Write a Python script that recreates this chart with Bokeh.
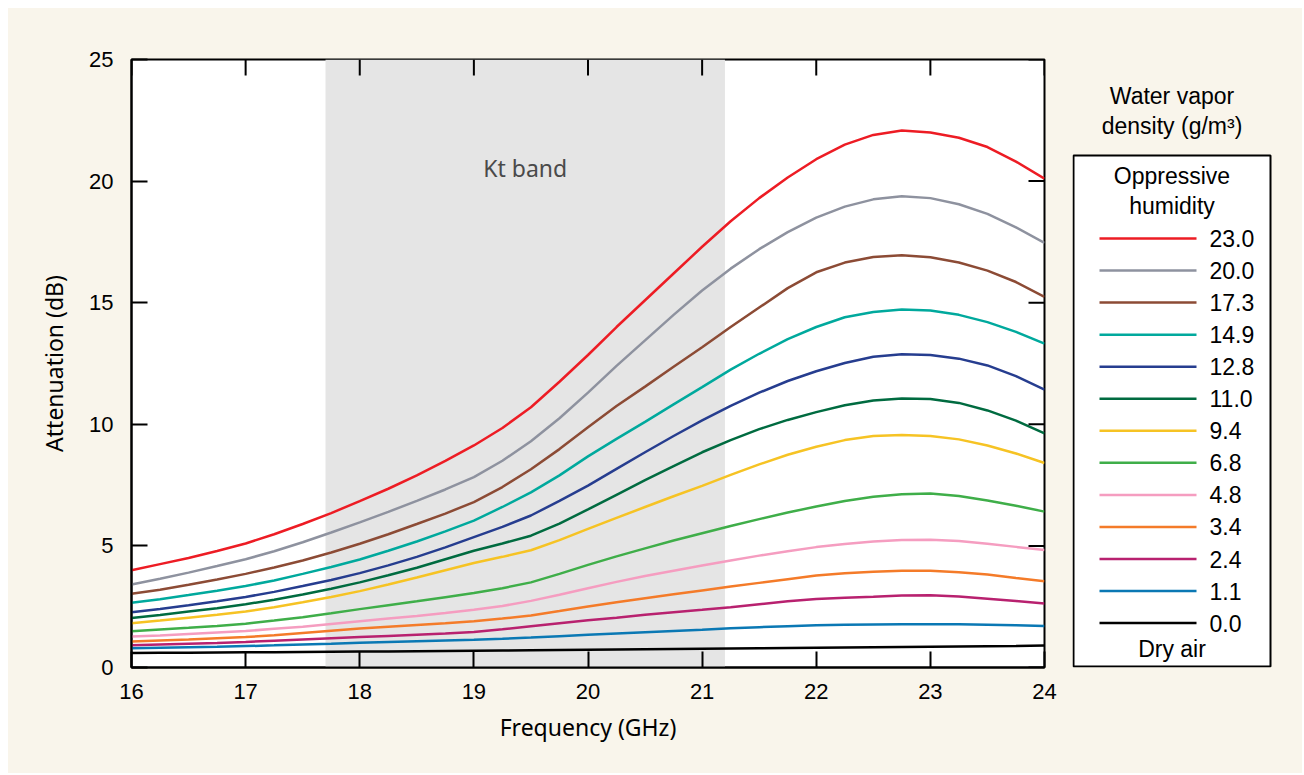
from bokeh.plotting import figure
from bokeh.models import Range1d, BoxAnnotation, Label, FixedTicker, Spacer
from bokeh.layouts import row, column
from bokeh.embed import file_html
from bokeh.resources import INLINE
from bokeh.core.properties import value

# ---------------- data ----------------
freq = [16.00, 16.25, 16.50, 16.75, 17.00, 17.25, 17.50, 17.75, 18.00, 18.25, 18.50,
        18.75, 19.00, 19.25, 19.50, 19.75, 20.00, 20.25, 20.50, 20.75, 21.00, 21.25,
        21.50, 21.75, 22.00, 22.25, 22.50, 22.75, 23.00, 23.25, 23.50, 23.75, 24.00]

densities = ["23.0", "20.0", "17.3", "14.9", "12.8", "11.0", "9.4", "6.8", "4.8", "3.4", "2.4", "1.1", "0.0"]
colors = ["#ed1c24", "#8e929f", "#8c4b35", "#00a99d", "#263d8f", "#006b40",
          "#f6c324", "#3fae49", "#f59dc0", "#f47b29", "#b8216f", "#0a78b4", "#000000"]

att_23_0 = [4.00, 4.25, 4.50, 4.79, 5.10, 5.48, 5.90, 6.35, 6.84, 7.35, 7.90, 8.50, 9.13, 9.85, 10.70, 11.75,
            12.85, 14.00, 15.10, 16.20, 17.30, 18.35, 19.30, 20.15, 20.90, 21.50, 21.90, 22.08, 22.00, 21.78,
            21.40, 20.80, 20.10]
att_20_0 = [3.41, 3.65, 3.90, 4.17, 4.45, 4.78, 5.15, 5.55, 5.97, 6.40, 6.85, 7.32, 7.83, 8.50, 9.30, 10.25,
            11.30, 12.40, 13.45, 14.50, 15.50, 16.40, 17.20, 17.90, 18.50, 18.95, 19.25, 19.38, 19.30, 19.05,
            18.65, 18.10, 17.46]
att_17_3 = [3.03, 3.20, 3.40, 3.62, 3.85, 4.11, 4.40, 4.73, 5.09, 5.48, 5.90, 6.33, 6.80, 7.42, 8.15, 8.98,
            9.88, 10.75, 11.55, 12.37, 13.17, 14.00, 14.80, 15.60, 16.25, 16.65, 16.88, 16.95, 16.87, 16.65,
            16.32, 15.85, 15.24]
att_14_9 = [2.66, 2.81, 2.98, 3.16, 3.35, 3.58, 3.85, 4.13, 4.44, 4.80, 5.18, 5.60, 6.04, 6.60, 7.20, 7.90,
            8.68, 9.40, 10.10, 10.82, 11.53, 12.25, 12.90, 13.50, 14.00, 14.40, 14.62, 14.72, 14.68, 14.50,
            14.20, 13.80, 13.32]
att_12_8 = [2.27, 2.41, 2.56, 2.72, 2.90, 3.11, 3.35, 3.60, 3.88, 4.20, 4.55, 4.94, 5.36, 5.78, 6.25, 6.85,
            7.48, 8.17, 8.85, 9.52, 10.16, 10.76, 11.30, 11.78, 12.18, 12.52, 12.78, 12.88, 12.85, 12.70,
            12.42, 11.98, 11.43]
att_11_0 = [2.04, 2.16, 2.30, 2.44, 2.60, 2.79, 3.00, 3.24, 3.50, 3.79, 4.10, 4.45, 4.80, 5.10, 5.42, 5.92,
            6.50, 7.10, 7.70, 8.28, 8.85, 9.35, 9.80, 10.18, 10.50, 10.78, 10.98, 11.06, 11.04, 10.88,
            10.57, 10.15, 9.63]
att_9_4 = [1.82, 1.93, 2.05, 2.17, 2.30, 2.48, 2.68, 2.90, 3.14, 3.41, 3.70, 4.00, 4.30, 4.55, 4.82, 5.24,
           5.70, 6.15, 6.60, 7.04, 7.47, 7.92, 8.35, 8.75, 9.08, 9.35, 9.52, 9.56, 9.52, 9.38,
           9.13, 8.80, 8.41]
att_6_8 = [1.49, 1.56, 1.63, 1.71, 1.80, 1.93, 2.07, 2.23, 2.40, 2.56, 2.72, 2.89, 3.06, 3.26, 3.50, 3.85,
           4.22, 4.57, 4.90, 5.22, 5.52, 5.82, 6.10, 6.37, 6.62, 6.85, 7.02, 7.12, 7.15, 7.05,
           6.87, 6.65, 6.41]
att_4_8 = [1.27, 1.32, 1.38, 1.44, 1.50, 1.59, 1.68, 1.79, 1.90, 2.01, 2.12, 2.24, 2.37, 2.53, 2.74, 2.99,
           3.26, 3.52, 3.76, 3.98, 4.19, 4.40, 4.60, 4.78, 4.95, 5.08, 5.18, 5.24, 5.25, 5.20,
           5.09, 4.96, 4.83]
att_3_4 = [1.07, 1.11, 1.15, 1.20, 1.25, 1.33, 1.42, 1.51, 1.60, 1.68, 1.75, 1.82, 1.90, 2.01, 2.14, 2.32,
           2.51, 2.68, 2.85, 3.01, 3.17, 3.33, 3.48, 3.63, 3.78, 3.88, 3.94, 3.98, 3.98, 3.92,
           3.82, 3.68, 3.55]
att_2_4 = [0.92, 0.95, 0.98, 1.01, 1.05, 1.10, 1.15, 1.20, 1.25, 1.30, 1.35, 1.40, 1.46, 1.57, 1.70, 1.82,
           1.94, 2.05, 2.17, 2.27, 2.37, 2.48, 2.60, 2.72, 2.82, 2.87, 2.91, 2.96, 2.97, 2.92,
           2.83, 2.73, 2.63]
att_1_1 = [0.79, 0.81, 0.83, 0.85, 0.88, 0.91, 0.95, 0.98, 1.02, 1.05, 1.08, 1.11, 1.14, 1.18, 1.23, 1.29,
           1.35, 1.40, 1.45, 1.50, 1.55, 1.61, 1.66, 1.70, 1.74, 1.76, 1.77, 1.78, 1.78, 1.78,
           1.76, 1.74, 1.71]
att_0_0 = [0.60, 0.61, 0.61, 0.62, 0.63, 0.63, 0.64, 0.65, 0.66, 0.66, 0.67, 0.68, 0.69, 0.70, 0.71, 0.72,
           0.73, 0.74, 0.75, 0.76, 0.77, 0.78, 0.79, 0.80, 0.81, 0.82, 0.83, 0.84, 0.85, 0.86,
           0.87, 0.88, 0.90]

series = [att_23_0, att_20_0, att_17_3, att_14_9, att_12_8, att_11_0, att_9_4,
          att_6_8, att_4_8, att_3_4, att_2_4, att_1_1, att_0_0]

x_ticks = [16, 17, 18, 19, 20, 21, 22, 23, 24]
y_ticks = [0, 5, 10, 15, 20, 25]
kt_band = (17.7, 21.2)
x_lim = (16, 24)
y_lim = (0, 25)

# ---------------- geometry / styling ----------------
CREAM = "#f9f5eb"
NUM_FONT = "Liberation Sans"
TXT_FONT = "Noto Sans"
MARGIN = 8
P_W, P_H = 1064, 765
B_L, B_R, B_T, B_B = 123, 28, 51, 106
FRAME_W = P_W - B_L - B_R
FRAME_H = P_H - B_T - B_B
TICK_LEN = 16

p = figure(width=P_W, height=P_H, x_range=Range1d(*x_lim), y_range=Range1d(*y_lim),
           output_backend="svg", toolbar_location=None,
           min_border_left=B_L, min_border_right=B_R, min_border_top=B_T, min_border_bottom=B_B,
           background_fill_color="white", border_fill_color=CREAM)
p.xgrid.visible = False
p.ygrid.visible = False
p.outline_line_color = "black"
p.outline_line_width = 2

p.add_layout(BoxAnnotation(left=kt_band[0], right=kt_band[1], fill_color="#e5e5e5",
                           fill_alpha=1.0, line_color=None, level="underlay"))
p.add_layout(Label(x=(kt_band[0] + kt_band[1]) / 2, y=20.55, text="Kt band",
                   text_align="center", text_baseline="middle", text_font=TXT_FONT,
                   text_font_size="23px", text_color="#4a4a4a"))

for vals, c in zip(series, colors):
    p.line(freq, vals, line_color=c, line_width=2.5)

for ax, ticks in ((p.xaxis[0], x_ticks), (p.yaxis[0], y_ticks)):
    ax.ticker = FixedTicker(ticks=ticks)
    ax.major_tick_in = TICK_LEN
    ax.major_tick_out = 0
    ax.minor_tick_line_color = None
    ax.major_tick_line_width = 2
    ax.major_tick_line_color = "black"
    ax.axis_line_width = 2
    ax.axis_line_color = "black"
    ax.major_label_text_font = NUM_FONT
    ax.major_label_text_font_size = "22px"
    ax.major_label_text_color = "black"
    ax.axis_label_text_font = TXT_FONT
    ax.axis_label_text_font_size = "23px"
    ax.axis_label_text_font_style = "normal"
    ax.axis_label_text_color = "black"

p.xaxis[0].axis_label = "Frequency (GHz)"
p.yaxis[0].axis_label = "Attenuation (dB)"
p.xaxis[0].major_label_standoff = 16
p.xaxis[0].axis_label_standoff = 9
p.yaxis[0].major_label_standoff = 18
p.yaxis[0].axis_label_standoff = 16

# inward tick marks on the top and right edges of the frame
dy = TICK_LEN * (y_lim[1] - y_lim[0]) / FRAME_H
dx = TICK_LEN * (x_lim[1] - x_lim[0]) / FRAME_W
p.segment(x0=x_ticks, x1=x_ticks, y0=[y_lim[1]] * len(x_ticks), y1=[y_lim[1] - dy] * len(x_ticks),
          line_color="black", line_width=2)
p.segment(x0=[x_lim[1]] * len(y_ticks), x1=[x_lim[1] - dx] * len(y_ticks), y0=y_ticks, y1=y_ticks,
          line_color="black", line_width=2)

# ---------------- legend panel (page-pixel coordinates) ----------------
L_X0 = MARGIN + P_W
L_W = 1302 - L_X0
frame_top_page = MARGIN + B_T
frame_bot_page = MARGIN + P_H - B_B
lf = figure(width=L_W, height=P_H, x_range=Range1d(L_X0, L_X0 + L_W),
            y_range=Range1d(frame_bot_page, frame_top_page),
            output_backend="svg", toolbar_location=None,
            min_border_left=0, min_border_right=0, min_border_top=B_T, min_border_bottom=B_B,
            x_axis_location=None, y_axis_location=None,
            background_fill_color=CREAM, border_fill_color=CREAM, outline_line_color=None)
lf.xgrid.visible = False
lf.ygrid.visible = False

box_l, box_r, box_t, box_b = 1073, 1270, 155, 666
cx = (box_l + box_r) / 2
lf.quad(left=[box_l], right=[box_r], top=[box_t], bottom=[box_b],
        fill_color="white", line_color="black", line_width=2)

row0, step = 238, 32.05
ys = [row0 + i * step for i in range(len(densities))]
lf.segment(x0=[1099] * len(ys), x1=[1196] * len(ys), y0=ys, y1=ys,
           line_color=colors, line_width=2.5)
lf.text(x=[1209] * len(ys), y=ys, text=densities, text_baseline="middle", text_align="left",
        text_font=value(NUM_FONT), text_font_size="23px", text_color="black")

lf.text(x=[cx, cx], y=[95, 125], text=["Water vapor", "density (g/m³)"],
        text_align="center", text_baseline="middle",
        text_font=value(NUM_FONT), text_font_size="23px", text_color="black")
lf.text(x=[cx, cx, cx], y=[175, 205, 648], text=["Oppressive", "humidity", "Dry air"],
        text_align="center", text_baseline="middle",
        text_font=value(NUM_FONT), text_font_size="23px", text_color="black")

inner = row(p, lf, spacing=0, styles={"background-color": CREAM})
layout = column(Spacer(height=MARGIN),
                row(Spacer(width=MARGIN), inner, spacing=0),
                spacing=0)
open("out.html", "w").write(file_html(layout, INLINE))
